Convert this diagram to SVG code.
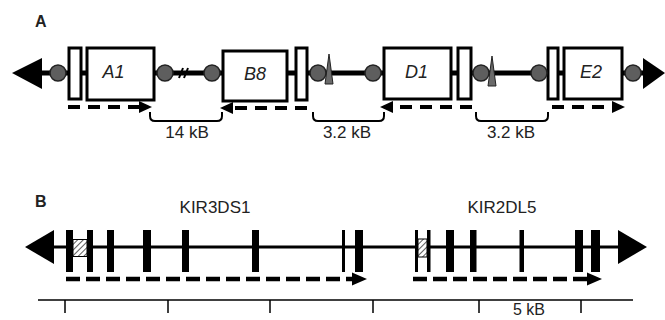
<svg xmlns="http://www.w3.org/2000/svg" width="665" height="320" viewBox="0 0 665 320">
<defs>
<pattern id="hatch" patternUnits="userSpaceOnUse" width="4" height="4" patternTransform="rotate(45)">
<rect width="4" height="4" fill="#fff"/>
<line x1="0" y1="0" x2="0" y2="4" stroke="#333" stroke-width="1.6"/>
</pattern>
</defs>
<style>
text{font-family:"Liberation Sans",Arial,sans-serif;fill:#222}
.lbl{font-size:16px;font-weight:bold}
.gene{font-size:18px;font-style:italic}
.kb{font-size:17px}
.main{stroke:#000;stroke-width:5}
.box{fill:#fff;stroke:#000;stroke-width:3}
.dot{fill:#5e5e5e;stroke:#222;stroke-width:1.5}
.spike{fill:#6a6a6a;stroke:#222;stroke-width:1}
.dash{stroke:#000;stroke-width:4;stroke-dasharray:12 8;fill:none}
.dashb{stroke:#000;stroke-width:4.5;stroke-dasharray:14 6;fill:none}
.brace{fill:none;stroke:#000;stroke-width:2}
.ex{fill:#000}
.scale{stroke:#000;stroke-width:1.5}
</style>
<text class="lbl" x="35" y="27">A</text>
<text class="lbl" x="35" y="207">B</text>
<g id="locusA">
<line class="main" x1="40" y1="73" x2="645" y2="73"/>
<polygon points="12,73 42,58 42,89"/>
<polygon points="665,73 643,58 643,89"/>
<path d="M179,78 L183,68 M184,78 L188,68" stroke="#000" stroke-width="2"/>
</g>
<g id="node-r1"><rect class="box" x="69" y="48" width="12" height="51"/></g>
<g id="node-A1"><rect class="box" x="87" y="48" width="67" height="52"/><text class="gene" x="113.5" y="78" text-anchor="middle">A1</text></g>
<g id="node-B8"><rect class="box" x="223" y="51" width="64" height="50"/><text class="gene" x="255" y="80" text-anchor="middle">B8</text></g>
<g id="node-r2"><rect class="box" x="296" y="48" width="11" height="52"/></g>
<g id="node-D1"><rect class="box" x="384" y="48" width="67" height="51"/><text class="gene" x="416.5" y="78" text-anchor="middle">D1</text></g>
<g id="node-r3"><rect class="box" x="458" y="48" width="13" height="51"/></g>
<g id="node-r4"><rect class="box" x="548" y="48" width="10" height="51"/></g>
<g id="node-E2"><rect class="box" x="564" y="48" width="58" height="51"/><text class="gene" x="591" y="78" text-anchor="middle">E2</text></g>
<g id="dots">
<circle class="dot" cx="58" cy="73" r="8"/>
<circle class="dot" cx="165" cy="73" r="8"/>
<circle class="dot" cx="212" cy="73" r="8"/>
<circle class="dot" cx="318" cy="73" r="8"/>
<circle class="dot" cx="373" cy="73" r="8"/>
<circle class="dot" cx="481" cy="73" r="8"/>
<circle class="dot" cx="539" cy="73" r="8"/>
<circle class="dot" cx="633" cy="73" r="8"/>
<polygon class="spike" points="325,84 329,54 333,84"/>
<polygon class="spike" points="488,86 492,56 496,86"/>
</g>
<g id="connectors">
<line class="dash" x1="68" y1="107" x2="140" y2="107"/>
<polygon points="152,107 139,101 139,113"/>
<line class="dash" x1="307" y1="108" x2="232" y2="108"/>
<polygon points="220,108 233,102 233,114"/>
<line class="dash" x1="472" y1="107" x2="392" y2="107"/>
<polygon points="380,107 393,101 393,113"/>
<line class="dash" x1="552" y1="107" x2="613" y2="107"/>
<polygon points="625,107 612,101 612,113"/>
<path class="brace" d="M150,112 V116 Q150,121 155,121 H217 Q222,121 222,116 V112"/>
<path class="brace" d="M313,112 V116 Q313,121 318,121 H379 Q384,121 384,116 V112"/>
<path class="brace" d="M476,112 V116 Q476,121 481,121 H543 Q548,121 548,116 V112"/>
<text class="kb" x="187" y="138" text-anchor="middle">14 kB</text>
<text class="kb" x="347" y="138" text-anchor="middle">3.2 kB</text>
<text class="kb" x="511" y="138" text-anchor="middle">3.2 kB</text>
</g>
<g id="locusB">
<line x1="50" y1="247" x2="620" y2="247" stroke="#000" stroke-width="3"/>
<polygon points="25,247 54,230 54,264"/>
<polygon points="647,247 618,230 618,264"/>
<text class="kb" x="215" y="213" text-anchor="middle">KIR3DS1</text>
<text class="kb" x="502" y="213" text-anchor="middle">KIR2DL5</text>
</g>
<g id="node-KIR3DS1">
<rect class="ex" x="66" y="230" width="7" height="42"/>
<rect x="73" y="239.5" width="14" height="17" fill="url(#hatch)" stroke="#000" stroke-width="1"/>
<rect class="ex" x="87" y="230" width="6" height="42"/>
<rect class="ex" x="107" y="230" width="7" height="42"/>
<rect class="ex" x="143" y="230" width="8" height="42"/>
<rect class="ex" x="182" y="230" width="7" height="42"/>
<rect class="ex" x="252" y="230" width="7" height="42"/>
<rect class="ex" x="342" y="230" width="3" height="42"/>
<rect class="ex" x="355" y="230" width="8" height="42"/>
</g>
<g id="node-KIR2DL5">
<rect class="ex" x="415" y="230" width="3" height="42"/>
<rect x="418" y="239" width="9" height="18" fill="url(#hatch)" stroke="#000" stroke-width="1"/>
<rect class="ex" x="427" y="230" width="3.5" height="42"/>
<rect class="ex" x="446" y="230" width="8" height="42"/>
<rect class="ex" x="470" y="230" width="6.5" height="42"/>
<rect class="ex" x="519.5" y="230" width="4.5" height="42"/>
<rect class="ex" x="575" y="230" width="8" height="42"/>
<rect class="ex" x="591" y="230" width="9" height="42"/>
</g>
<g id="connectorsB">
<line class="dashb" x1="66" y1="279" x2="354" y2="279"/>
<polygon points="367,279 352,272.5 352,285.5"/>
<line class="dashb" x1="413" y1="279" x2="589" y2="279"/>
<polygon points="602,279 587,272.5 587,285.5"/>
</g>
<g id="scale">
<line class="scale" x1="38" y1="300" x2="633" y2="300"/>
<path class="scale" d="M65,300 V313 M168,300 V313 M270,300 V313 M373,300 V313 M479,300 V313 M581,300 V313"/>
<text x="529" y="315" text-anchor="middle" style="font-size:16px">5 kB</text>
</g>
</svg>
